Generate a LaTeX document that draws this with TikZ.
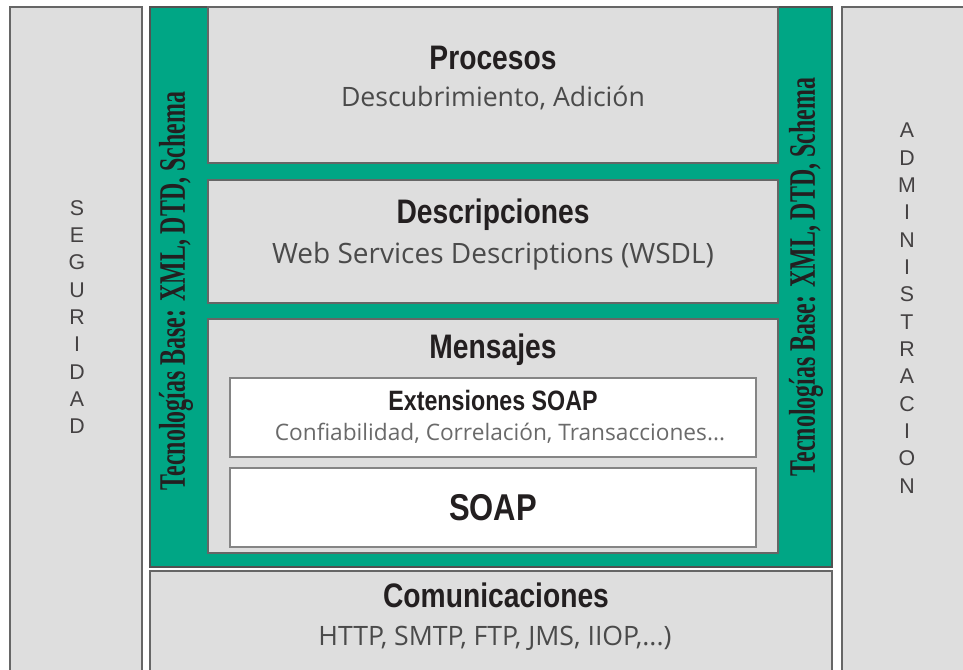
\documentclass[tikz,border=0pt]{standalone}
\usepackage{fontspec}
\setmainfont{Liberation Sans}
\newfontfamily\condfont[FakeStretch=0.83]{Liberation Sans}
\newfontfamily\lightfont{Open Sans}
\newfontfamily\serifcond[FakeStretch=0.64]{Liberation Serif}
\definecolor{panelgray}{HTML}{DEDEDE}
\definecolor{basegreen}{HTML}{00A685}
\definecolor{edgegray}{HTML}{666666}
\definecolor{inkdark}{HTML}{231F20}
\definecolor{subgray}{HTML}{4A4A4A}
\definecolor{softgray}{HTML}{6A6A6A}
\tikzset{
  panel/.style={fill=panelgray, draw=edgegray, line width=1pt},
  whitebox/.style={fill=white, draw=edgegray!80, line width=1pt},
  greenbase/.style={fill=basegreen, draw=edgegray!80!black, line width=1pt},
  title/.style={font=\condfont\bfseries\fontsize{25.5}{28}\selectfont, text=inkdark, inner sep=0pt, anchor=base},
  subtitle/.style={font=\lightfont\fontsize{20}{24}\selectfont, text=subgray, inner sep=0pt, anchor=base},
  basetext/.style={font=\serifcond\bfseries\fontsize{28}{30}\selectfont, text=inkdark, rotate=90, inner sep=0pt},
  sideletters/.style={font=\fontsize{16}{20.5}\selectfont, text=inkdark!85, align=center, inner sep=0pt}
}

\begin{document}
\begin{tikzpicture}[x=0.75pt, y=-0.75pt]
  \useasboundingbox (0,0) rectangle (963,669);
  \fill[white] (0,0) rectangle (963,669);
  % side panels
  \draw[panel] (10,7) rectangle (142,690);
  \draw[panel] (842,7) rectangle (990,690);
  \node[sideletters] (seguridad) at (77,317) {S\\E\\G\\U\\R\\I\\D\\A\\D};
  \node[sideletters] (administracion) at (907,308) {A\\D\\M\\I\\N\\I\\S\\T\\R\\A\\C\\I\\O\\N};
  % green base technologies frame
  \draw[greenbase] (150,7) rectangle (832,567);
  \node[basetext] (baseleft) at (176,291) {Tecnologías Base: XML, DTD, Schema};
  \node[basetext] (baseright) at (806,277) {Tecnologías Base: XML, DTD, Schema};
  % layers
  \draw[panel] (208,7) rectangle (778,163);
  \node[title] (procesos) at (493,69) {Procesos};
  \node[subtitle] (procesosSub) at (493,106) {Descubrimiento, Adición};
  \draw[panel] (208,180) rectangle (778,303);
  \node[title] (descripciones) at (493,223) {Descripciones};
  \node[subtitle, font=\lightfont\fontsize{21}{24}\selectfont] (descripcionesSub) at (493,263) {Web Services Descriptions (WSDL)};
  \draw[panel] (208,319) rectangle (778,553);
  \node[title] (mensajes) at (493,358) {Mensajes};
  \draw[whitebox] (230,378) rectangle (756,457);
  \node[title, font=\condfont\bfseries\fontsize{21}{24}\selectfont] (extensiones) at (493,410) {Extensiones SOAP};
  \node[subtitle, text=softgray, font=\lightfont\fontsize{17}{20}\selectfont] (extensionesSub) at (500,440) {Confiabilidad, Correlación, Transacciones...};
  \draw[whitebox] (230,468) rectangle (756,547);
  \node[title, font=\condfont\bfseries\fontsize{28}{30}\selectfont] (soap) at (493,520) {SOAP};
  % communications
  \draw[panel] (150,571) rectangle (832,690);
  \node[title] (comunicaciones) at (496,607) {Comunicaciones};
  \node[subtitle] (comunicacionesSub) at (495,645) {HTTP, SMTP, FTP, JMS, IIOP,...)};
\end{tikzpicture}
\end{document}
